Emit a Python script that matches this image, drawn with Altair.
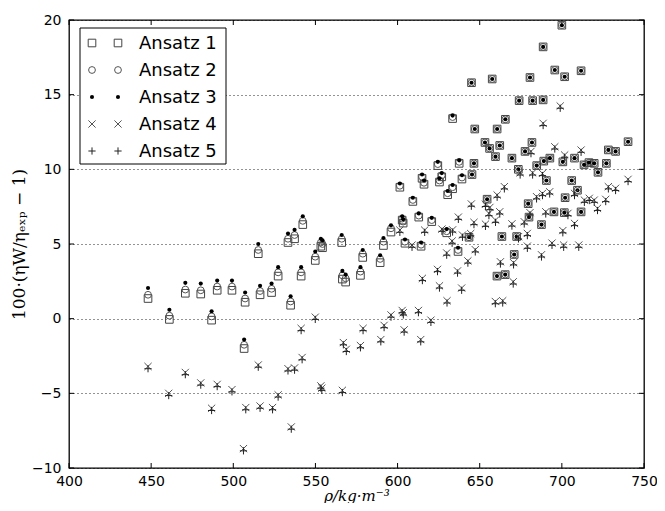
import altair as alt
import pandas as pd

SERIES = ["Ansatz 1", "Ansatz 2", "Ansatz 3", "Ansatz 4", "Ansatz 5"]

# density values shared by Ansatz 1-3
X_UPPER = [448.1, 461.1, 470.8, 480.2, 486.8, 490.2, 499.2, 506.6, 507.2, 515.2, 516.3, 523.3, 527.3, 533.3, 534.9,
           537.3, 541.3, 542.3, 549.9, 553.3, 554.3, 566.0, 566.4, 568.4, 577.4, 578.8, 589.4, 591.4, 596.0,
           601.4, 602.8, 603.4, 604.5, 609.3, 612.9, 614.3, 614.9, 616.1, 620.8, 624.5, 625.5, 626.9, 629.9, 630.5,
           633.5, 633.5, 636.8, 637.5, 639.2,
           643.5, 645.0, 645.3, 646.5, 647.0, 653.2, 654.5, 656.0, 657.6, 659.6, 660.5, 660.6, 662.2, 663.5, 665.5,
           665.6, 669.6, 671.0, 672.5, 673.5, 674.0, 677.6, 679.5, 680.0, 680.6, 681.8, 682.2, 684.7, 687.6, 688.6,
           688.6, 689.0, 690.6, 692.7, 695.2, 695.7, 700.0, 700.6, 701.5, 701.7, 702.0, 706.0, 707.7, 709.5, 711.7,
           711.7, 713.5, 716.5, 719.7, 722.0, 727.1, 728.3, 732.7, 740.3]

A1 = [1.35, -0.05, 1.7, 1.65, -0.1, 1.9, 1.9, -2.0, 1.1, 4.35, 1.6, 1.75, 2.85, 5.1, 0.9,
      5.35, 2.85, 6.3, 3.9, 4.85, 4.75, 5.1, 2.65, 2.45, 2.9, 4.1, 3.75, 4.9, 5.8,
      8.8, 6.6, 6.4, 5.05, 7.85, 6.8, 4.85, 9.4, 9.0, 6.5, 10.25, 9.15, 9.5, 5.75, 8.3,
      8.7, 13.4, 4.5, 10.4, 9.35,
      5.45, 15.8, 9.65, 10.4, 12.7, 11.8, 8.0, 11.4, 16.05, 10.85, 2.85, 12.7, 11.6, 5.5, 2.95,
      13.35, 10.75, 4.3, 5.5, 10.0, 14.6, 11.2, 7.7, 6.8, 16.15, 11.8, 14.6, 10.25, 6.3, 18.2,
      14.65, 10.55, 9.25, 10.75, 7.15, 16.65, 19.65, 10.5, 7.1, 16.2, 8.1, 9.25, 10.75, 8.6, 7.15,
      16.6, 10.3, 10.45, 10.4, 9.8, 10.4, 11.3, 11.2, 11.85]

A2 = [1.6, 0.2, 1.95, 1.9, 0.15, 2.15, 2.15, -1.75, 1.35, 4.6, 1.85, 2.0, 3.1, 5.35, 1.15,
      5.6, 3.1, 6.55, 4.15, 5.1, 5.0, 5.35, 2.9, 2.7, 3.15, 4.35, 4.0, 5.15, 6.05,
      8.9, 6.7, 6.5, 5.15, 7.95, 6.9, 4.95, 9.5, 9.1, 6.6, 10.35, 9.25, 9.6, 5.85, 8.4,
      8.8, 13.5, 4.6, 10.5, 9.45,
      5.45, 15.8, 9.65, 10.4, 12.7, 11.8, 8.0, 11.4, 16.05, 10.85, 2.85, 12.7, 11.6, 5.5, 2.95,
      13.35, 10.75, 4.3, 5.5, 10.0, 14.6, 11.2, 7.7, 6.8, 16.15, 11.8, 14.6, 10.25, 6.3, 18.2,
      14.65, 10.55, 9.25, 10.75, 7.15, 16.65, 19.65, 10.5, 7.1, 16.2, 8.1, 9.25, 10.75, 8.6, 7.15,
      16.6, 10.3, 10.45, 10.4, 9.8, 10.4, 11.3, 11.2, 11.85]

A3 = [2.05, 0.6, 2.4, 2.35, 0.5, 2.55, 2.55, -1.4, 1.75, 5.0, 2.2, 2.35, 3.45, 5.7, 1.5,
      5.95, 3.45, 6.85, 4.5, 5.35, 5.25, 5.6, 3.2, 2.95, 3.45, 4.6, 4.25, 5.4, 6.25,
      9.05, 6.85, 6.65, 5.3, 8.1, 7.05, 5.1, 9.65, 9.25, 6.75, 10.5, 9.4, 9.75, 6.0, 8.55,
      8.95, 13.6, 4.75, 10.6, 9.6,
      5.45, 15.8, 9.65, 10.4, 12.7, 11.8, 8.0, 11.4, 16.05, 10.85, 2.85, 12.7, 11.6, 5.5, 2.95,
      13.35, 10.75, 4.3, 5.5, 10.0, 14.6, 11.2, 7.7, 6.8, 16.15, 11.8, 14.6, 10.25, 6.3, 18.2,
      14.65, 10.55, 9.25, 10.75, 7.15, 16.65, 19.65, 10.5, 7.1, 16.2, 8.1, 9.25, 10.75, 8.6, 7.15,
      16.6, 10.3, 10.45, 10.4, 9.8, 10.4, 11.3, 11.2, 11.85]

# density values shared by Ansatz 4-5
X_LOWER = [448.1, 460.7, 470.8, 480.2, 486.8, 490.2, 499.2, 506.2, 507.6, 515.2, 516.3, 523.9, 527.3, 533.3, 535.3,
           537.3, 541.3, 541.9, 549.9, 553.3, 553.9, 566.4, 567.0, 568.8, 577.4, 579.0, 589.8, 591.8, 596.0,
           601.4, 602.8, 603.5, 604.0, 608.8, 612.7, 614.1, 615.1, 616.5, 620.3, 624.3, 625.5, 627.0, 629.9, 630.1,
           633.2, 633.5, 636.5, 637.0, 639.0, 639.5,
           642.8, 644.5, 644.9, 646.5, 647.3, 653.5, 653.5, 655.6, 656.2, 659.5, 659.6, 660.6, 662.2, 662.6, 664.0,
           665.0, 669.6, 670.4, 670.6, 673.6, 674.6, 677.1, 679.0, 679.0, 680.6, 681.2, 682.2, 684.6, 687.6, 688.2,
           688.2, 688.6, 690.2, 692.6, 694.0, 695.7, 699.0, 700.6, 701.1, 701.7, 703.7, 707.7, 707.7, 710.3, 711.7,
           713.7, 716.7, 719.7, 721.7, 726.7, 728.3, 732.7, 740.3]

A4 = [-3.2, -5.0, -3.6, -4.3, -6.0, -4.4, -4.75, -8.7, -5.95, -3.1, -5.85, -5.95, -5.1, -3.35, -7.25,
      -3.3, -0.65, -2.6, 0.1, -4.5, -4.65, -4.8, -1.6, -2.05, -1.8, -0.65, -1.4, -0.45, 0.25,
      5.93, 0.55, 0.4, -0.75, 4.93, 0.55, -1.4, 2.7, 5.93, -0.1, 3.3, 2.2, 6.0, 4.4, 1.2,
      5.2, 5.95, 3.2, 6.8, 2.05, 5.6,
      3.87, 5.7, 7.68, 6.45, 4.62, 7.66, 6.33, 7.05, 7.45, 1.15, 6.6, 8.28, 7.16, 3.81, 1.2,
      8.84, 6.35, 2.47, 3.75, 5.49, 9.77, 6.49, 5.71, 4.86, 7.1, 11.2, 9.77, 8.17, 4.28, 9.73,
      8.39, 13.08, 7.16, 8.5, 5.06, 11.51, 14.24, 5.9, 4.93, 10.96, 7.05, 8.39, 6.38, 4.93, 11.29,
      7.94, 8.06, 7.94, 7.39, 7.99, 8.84, 8.73, 9.33]

A5 = [-3.35, -5.15, -3.75, -4.45, -6.15, -4.55, -4.9, -8.85, -6.1, -3.25, -6.0, -6.1, -5.25, -3.5, -7.4,
      -3.45, -0.8, -2.75, -0.05, -4.65, -4.8, -4.95, -1.75, -2.2, -1.95, -0.8, -1.55, -0.6, 0.1,
      5.78, 0.4, 0.25, -0.9, 4.78, 0.4, -1.55, 2.55, 5.78, -0.25, 3.15, 2.05, 5.85, 4.25, 1.05,
      5.05, 5.8, 3.05, 6.65, 1.9, 5.45,
      3.72, 5.55, 7.53, 6.3, 4.47, 7.51, 6.18, 6.9, 7.3, 1.0, 6.45, 8.13, 7.01, 3.66, 1.05,
      8.69, 6.2, 2.32, 3.6, 5.34, 9.62, 6.34, 5.56, 4.71, 6.95, 11.05, 9.62, 8.02, 4.13, 9.58,
      8.24, 12.93, 7.01, 8.35, 4.91, 11.36, 14.09, 5.75, 4.78, 10.81, 6.9, 8.24, 6.23, 4.78, 11.14,
      7.79, 7.91, 7.79, 7.24, 7.84, 8.69, 8.58, 9.18]

X_TICKS = [400, 450, 500, 550, 600, 650, 700, 750]
Y_TICKS = [-10, -5, 0, 5, 10, 15, 20]

W, H = 575, 448

rows = []
for name, xs, ys in [(SERIES[0], X_UPPER, A1), (SERIES[1], X_UPPER, A2), (SERIES[2], X_UPPER, A3),
                     (SERIES[3], X_LOWER, A4), (SERIES[4], X_LOWER, A5)]:
    for xv, yv in zip(xs, ys):
        rows.append({"rho": xv, "dev": yv, "series": name})
df = pd.DataFrame(rows)

xscale = alt.Scale(domain=[400, 750], nice=False, zero=False)
yscale = alt.Scale(domain=[-10, 20], nice=False, zero=False)

xaxis = alt.Axis(title="ρ/kg·m⁻³", values=X_TICKS, ticks=False, domain=False, grid=False,
                 labelPadding=6, labelFontSize=14, labelFont="DejaVu Sans", labelColor="#000",
                 labelOverlap=False, labelFlush=False,
                 titleFont="DejaVu Serif", titleFontStyle="italic", titleFontWeight="normal",
                 titleFontSize=15, titleColor="#000", titleX=W / 2, titleY=27,
                 titleBaseline="middle", titleAlign="center")
yaxis = alt.Axis(title="100·(ηW/ηₑₓₚ − 1)", values=Y_TICKS, ticks=False, domain=False,
                 grid=True, gridDash=[1, 3], gridColor="#000", gridWidth=1, gridOpacity=0.85,
                 labelPadding=8, labelFontSize=14, labelFont="DejaVu Sans", labelColor="#000",
                 labelOverlap=False, labelFlush=False,
                 titleFont="DejaVu Serif", titleFontStyle="normal", titleFontWeight="normal",
                 titleFontSize=17, titleColor="#000", titleAngle=270, titleX=-50, titleY=H / 2,
                 titleBaseline="middle", titleAlign="center")

X_SHAPE = "M-1,-1L1,1M-1,1L1,-1"
P_SHAPE = "M-1,0L1,0M0,-1L0,1"
STYLES = {
    "Ansatz 1": dict(shape="square", size=58, color="#444", filled=False),
    "Ansatz 2": dict(shape="circle", size=46, color="#555", filled=False),
    "Ansatz 3": dict(shape="circle", size=17, color="#000", filled=True),
    "Ansatz 4": dict(shape=X_SHAPE, size=52, color="#555", filled=False),
    "Ansatz 5": dict(shape=P_SHAPE, size=52, color="#222", filled=False),
}

layers = []
# inward tick marks
tx = pd.DataFrame({"rho": X_TICKS})
ty = pd.DataFrame({"dev": Y_TICKS})
xenc = alt.X("rho:Q", scale=xscale, axis=xaxis)
yenc = alt.Y("dev:Q", scale=yscale, axis=yaxis)
layers.append(alt.Chart(tx).mark_rule(color="#000", strokeWidth=1).encode(x=xenc, y=alt.value(H), y2=alt.value(H - 5)))
layers.append(alt.Chart(tx).mark_rule(color="#000", strokeWidth=1).encode(x=xenc, y=alt.value(0), y2=alt.value(5)))
layers.append(alt.Chart(ty).mark_rule(color="#000", strokeWidth=1).encode(y=yenc, x=alt.value(0), x2=alt.value(5)))
layers.append(alt.Chart(ty).mark_rule(color="#000", strokeWidth=1).encode(y=yenc, x=alt.value(W), x2=alt.value(W - 5)))

for name in SERIES:
    st = STYLES[name]
    layers.append(
        alt.Chart(df).transform_filter(alt.datum.series == name)
        .mark_point(shape=st["shape"], size=st["size"], color=st["color"], filled=st["filled"],
                    opacity=1, strokeWidth=1)
        .encode(x=xenc, y=yenc)
    )

# legend box (matplotlib style, two markers per entry)
box = pd.DataFrame({"k": [0]})
layers.append(alt.Chart(box).mark_rect(fill="white", stroke="#000", strokeWidth=1).encode(
    x=alt.value(11), x2=alt.value(157), y=alt.value(8), y2=alt.value(144)))
for i, name in enumerate(SERIES):
    st = STYLES[name]
    ly = 23 + 27 * i
    one = pd.DataFrame({"label": [name]})
    for lx in (23, 49):
        layers.append(alt.Chart(one).mark_point(shape=st["shape"], size=st["size"], color=st["color"],
                                                filled=st["filled"], opacity=1, strokeWidth=1)
                      .encode(x=alt.value(lx), y=alt.value(ly)))
    layers.append(alt.Chart(one).mark_text(align="left", baseline="middle", font="DejaVu Sans",
                                           fontSize=18, color="#000")
                  .encode(x=alt.value(70), y=alt.value(ly + 1), text="label:N"))

chart = (
    alt.layer(*layers)
    .properties(width=W, height=H, autosize=alt.AutoSizeParams(type="none"),
                padding={"left": 61, "top": 12, "right": 13, "bottom": 35})
    .configure_view(stroke="#000", strokeWidth=1.3)
)

chart.save("out.html", embed_options={"renderer": "svg", "actions": False})
